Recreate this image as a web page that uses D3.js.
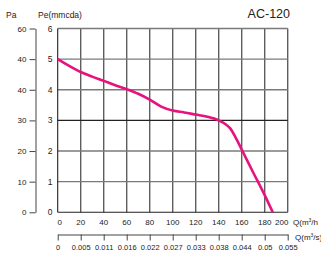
<!DOCTYPE html>
<html><head><meta charset="utf-8">
<script src="https://cdn.jsdelivr.net/npm/d3@7"></script>
<style>body{margin:0;background:#fff}text{font-family:"Liberation Sans",Arial,sans-serif;fill:#222}</style>
</head><body><svg id="c" width="321" height="254"></svg>
<script>
const title = "AC-120";
const flowQ = [0,10,20,30,40,50,60,70,80,90,100,110,120,130,140,145,150,155,160,170,180,187];
const pressPe = [5.0,4.78,4.58,4.43,4.29,4.15,4.02,3.87,3.68,3.45,3.32,3.26,3.19,3.12,3.0,2.9,2.74,2.42,2.05,1.3,0.56,0];
const qTicks = [0,20,40,60,80,100,120,140,160,180,200];
const qsLabels = ["0","0.005","0.011","0.016","0.022","0.027","0.033","0.038","0.044","0.05","0.055"];
const peTicks = [0,1,2,3,4,5,6];
const paLabels = ["0","10","20","30","40","40","60"];

const svg = d3.select("#c");
const x = d3.scaleLinear().domain([0,200]).range([57.7,287.7]);
const y = d3.scaleLinear().domain([0,6]).range([212.3,28.5]);

// grid
svg.append("g").selectAll("line").data(qTicks.slice(1)).join("line")
  .attr("x1",d=>x(d)).attr("x2",d=>x(d)).attr("y1",y(6)).attr("y2",y(0))
  .attr("stroke","#5e5e5e").attr("stroke-width",1.4);
svg.append("g").selectAll("line").data(peTicks.slice(1)).join("line")
  .attr("x1",x(0)).attr("x2",x(200)).attr("y1",d=>y(d)).attr("y2",d=>y(d))
  .attr("stroke",d=>d===3?"#222":"#7a7a7a").attr("stroke-width",d=>d===3?1.1:1.4);
svg.append("line").attr("x1",x(0)).attr("x2",x(0)).attr("y1",y(6)).attr("y2",y(0)).attr("stroke","#222").attr("stroke-width",1.1);
svg.append("line").attr("x1",x(0)).attr("x2",x(200)).attr("y1",y(0)).attr("y2",y(0)).attr("stroke","#222").attr("stroke-width",1.1);

// Pe labels
svg.append("g").selectAll("text").data(peTicks).join("text")
  .attr("x",52.5).attr("y",d=>y(d)+3).attr("text-anchor","end").attr("font-size",8.5).text(d=>d);

// Pa axis
const pa = d3.scaleLinear().domain([0,6]).range([212.3,28.5]);
const paAxis = svg.append("g").attr("transform","translate(35.5,0)")
  .call(d3.axisLeft(pa).tickValues(peTicks).tickFormat((d,i)=>paLabels[i]).tickSize(6).tickSizeOuter(0).tickPadding(3));
paAxis.select(".domain").attr("stroke","#444");
paAxis.selectAll(".tick line").attr("stroke","#444");
paAxis.selectAll("text").attr("font-size",8).attr("fill","#222").style("font-family","Liberation Sans, Arial, sans-serif");

// Q m3/h labels
svg.append("g").selectAll("text").data(qTicks).join("text")
  .attr("x",(d,i)=>x(d)+(i===0?2:(i===10?-6:0))).attr("y",224.5).attr("text-anchor","middle").attr("font-size",8).text(d=>d);
svg.append("text").attr("x",293).attr("y",224.5).attr("font-size",8).html('Q(m<tspan font-size="5" dy="-3">3</tspan><tspan dy="3">/h</tspan>');

// Q m3/s axis
const qs = svg.append("g").attr("transform","translate(0,234.5)")
  .call(d3.axisBottom(x).tickValues(qTicks).tickFormat((d,i)=>qsLabels[i]).tickSize(6).tickSizeOuter(0).tickPadding(4));
qs.select(".domain").attr("stroke","#444");
qs.selectAll(".tick line").attr("stroke","#444");
qs.selectAll("text").attr("font-size",7.5).attr("fill","#222").style("font-family","Liberation Sans, Arial, sans-serif");
svg.append("text").attr("x",295).attr("y",239.5).attr("font-size",8).html('Q(m<tspan font-size="5" dy="-3">3</tspan><tspan dy="3">/s)</tspan>');

// curve
const line = d3.line().x((d,i)=>x(flowQ[i])).y(d=>y(d)).curve(d3.curveMonotoneX);
svg.append("path").attr("d",line(pressPe)).attr("fill","none").attr("stroke","#e8127f").attr("stroke-width",2.6);

// titles
svg.append("text").attr("x",6).attr("y",18).attr("font-size",8.5).text("Pa");
svg.append("text").attr("x",38).attr("y",18).attr("font-size",8.5).text("Pe(mmcda)");
svg.append("text").attr("x",290).attr("y",18).attr("text-anchor","end").attr("font-size",12.5).text(title);
</script></body></html>
